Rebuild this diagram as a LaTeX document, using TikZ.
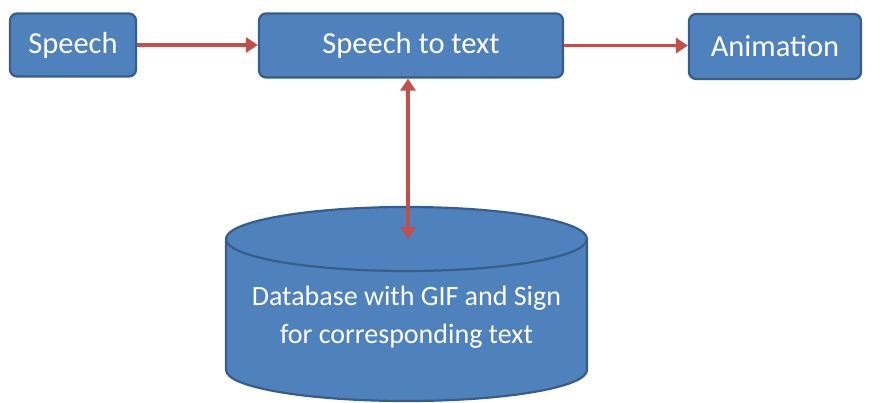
\documentclass[tikz,border=0pt]{standalone}
\usepackage{fontspec}
\setmainfont{Carlito}
\usetikzlibrary{arrows.meta}
\definecolor{boxfill}{HTML}{4F81BD}
\definecolor{boxline}{HTML}{385D8A}
\definecolor{arrowred}{HTML}{C0504D}
\tikzset{
  procbox/.style={draw=boxline, line width=2.2pt, fill=boxfill, rounded corners=7pt,
    text=white, font=\fontsize{30.5}{36}\selectfont, inner sep=0pt},
  conn/.style={draw=arrowred, line width=3.3pt, -{Triangle[length=12pt,width=15pt]}},
  dconn/.style={draw=arrowred, line width=3.3pt, {Triangle[length=12pt,width=15pt]}-{Triangle[length=12pt,width=15pt]}},
}
\begin{document}
\begin{tikzpicture}[x=1pt,y=-1pt]
\useasboundingbox (0,0) rectangle (872,403);
\node[procbox, minimum width=126pt, minimum height=63pt] (speech) at (73,45) {Speech};
\node[procbox, minimum width=304pt, minimum height=64pt] (stt) at (411,45.5) {Speech to text};
\node[procbox, minimum width=172pt, minimum height=65pt] (anim) at (775,46.5) {Animation};
% cylinder
\draw[draw=boxline, line width=2.2pt, fill=boxfill]
  (226,239) -- (226,370) arc[start angle=180, end angle=360, x radius=180.5pt, y radius=31pt]
  -- (587,239) arc[start angle=0, end angle=180, x radius=180.5pt, y radius=32pt] -- cycle;
\draw[draw=boxline, line width=2.2pt]
  (226,239) arc[start angle=180, end angle=360, x radius=180.5pt, y radius=32pt];
\coordinate (dbtop) at (408,239);
\node[text=white, font=\fontsize{28}{38}\selectfont, align=center] (db) at (406.5,317) {Database with GIF and Sign\\for corresponding text};
\draw[conn] (speech.east) -- (stt.west |- speech.east);
\draw[conn] (stt.east) -- (anim.west |- stt.east);
\draw[dconn] (stt.south -| dbtop) -- (dbtop);
\end{tikzpicture}
\end{document}
